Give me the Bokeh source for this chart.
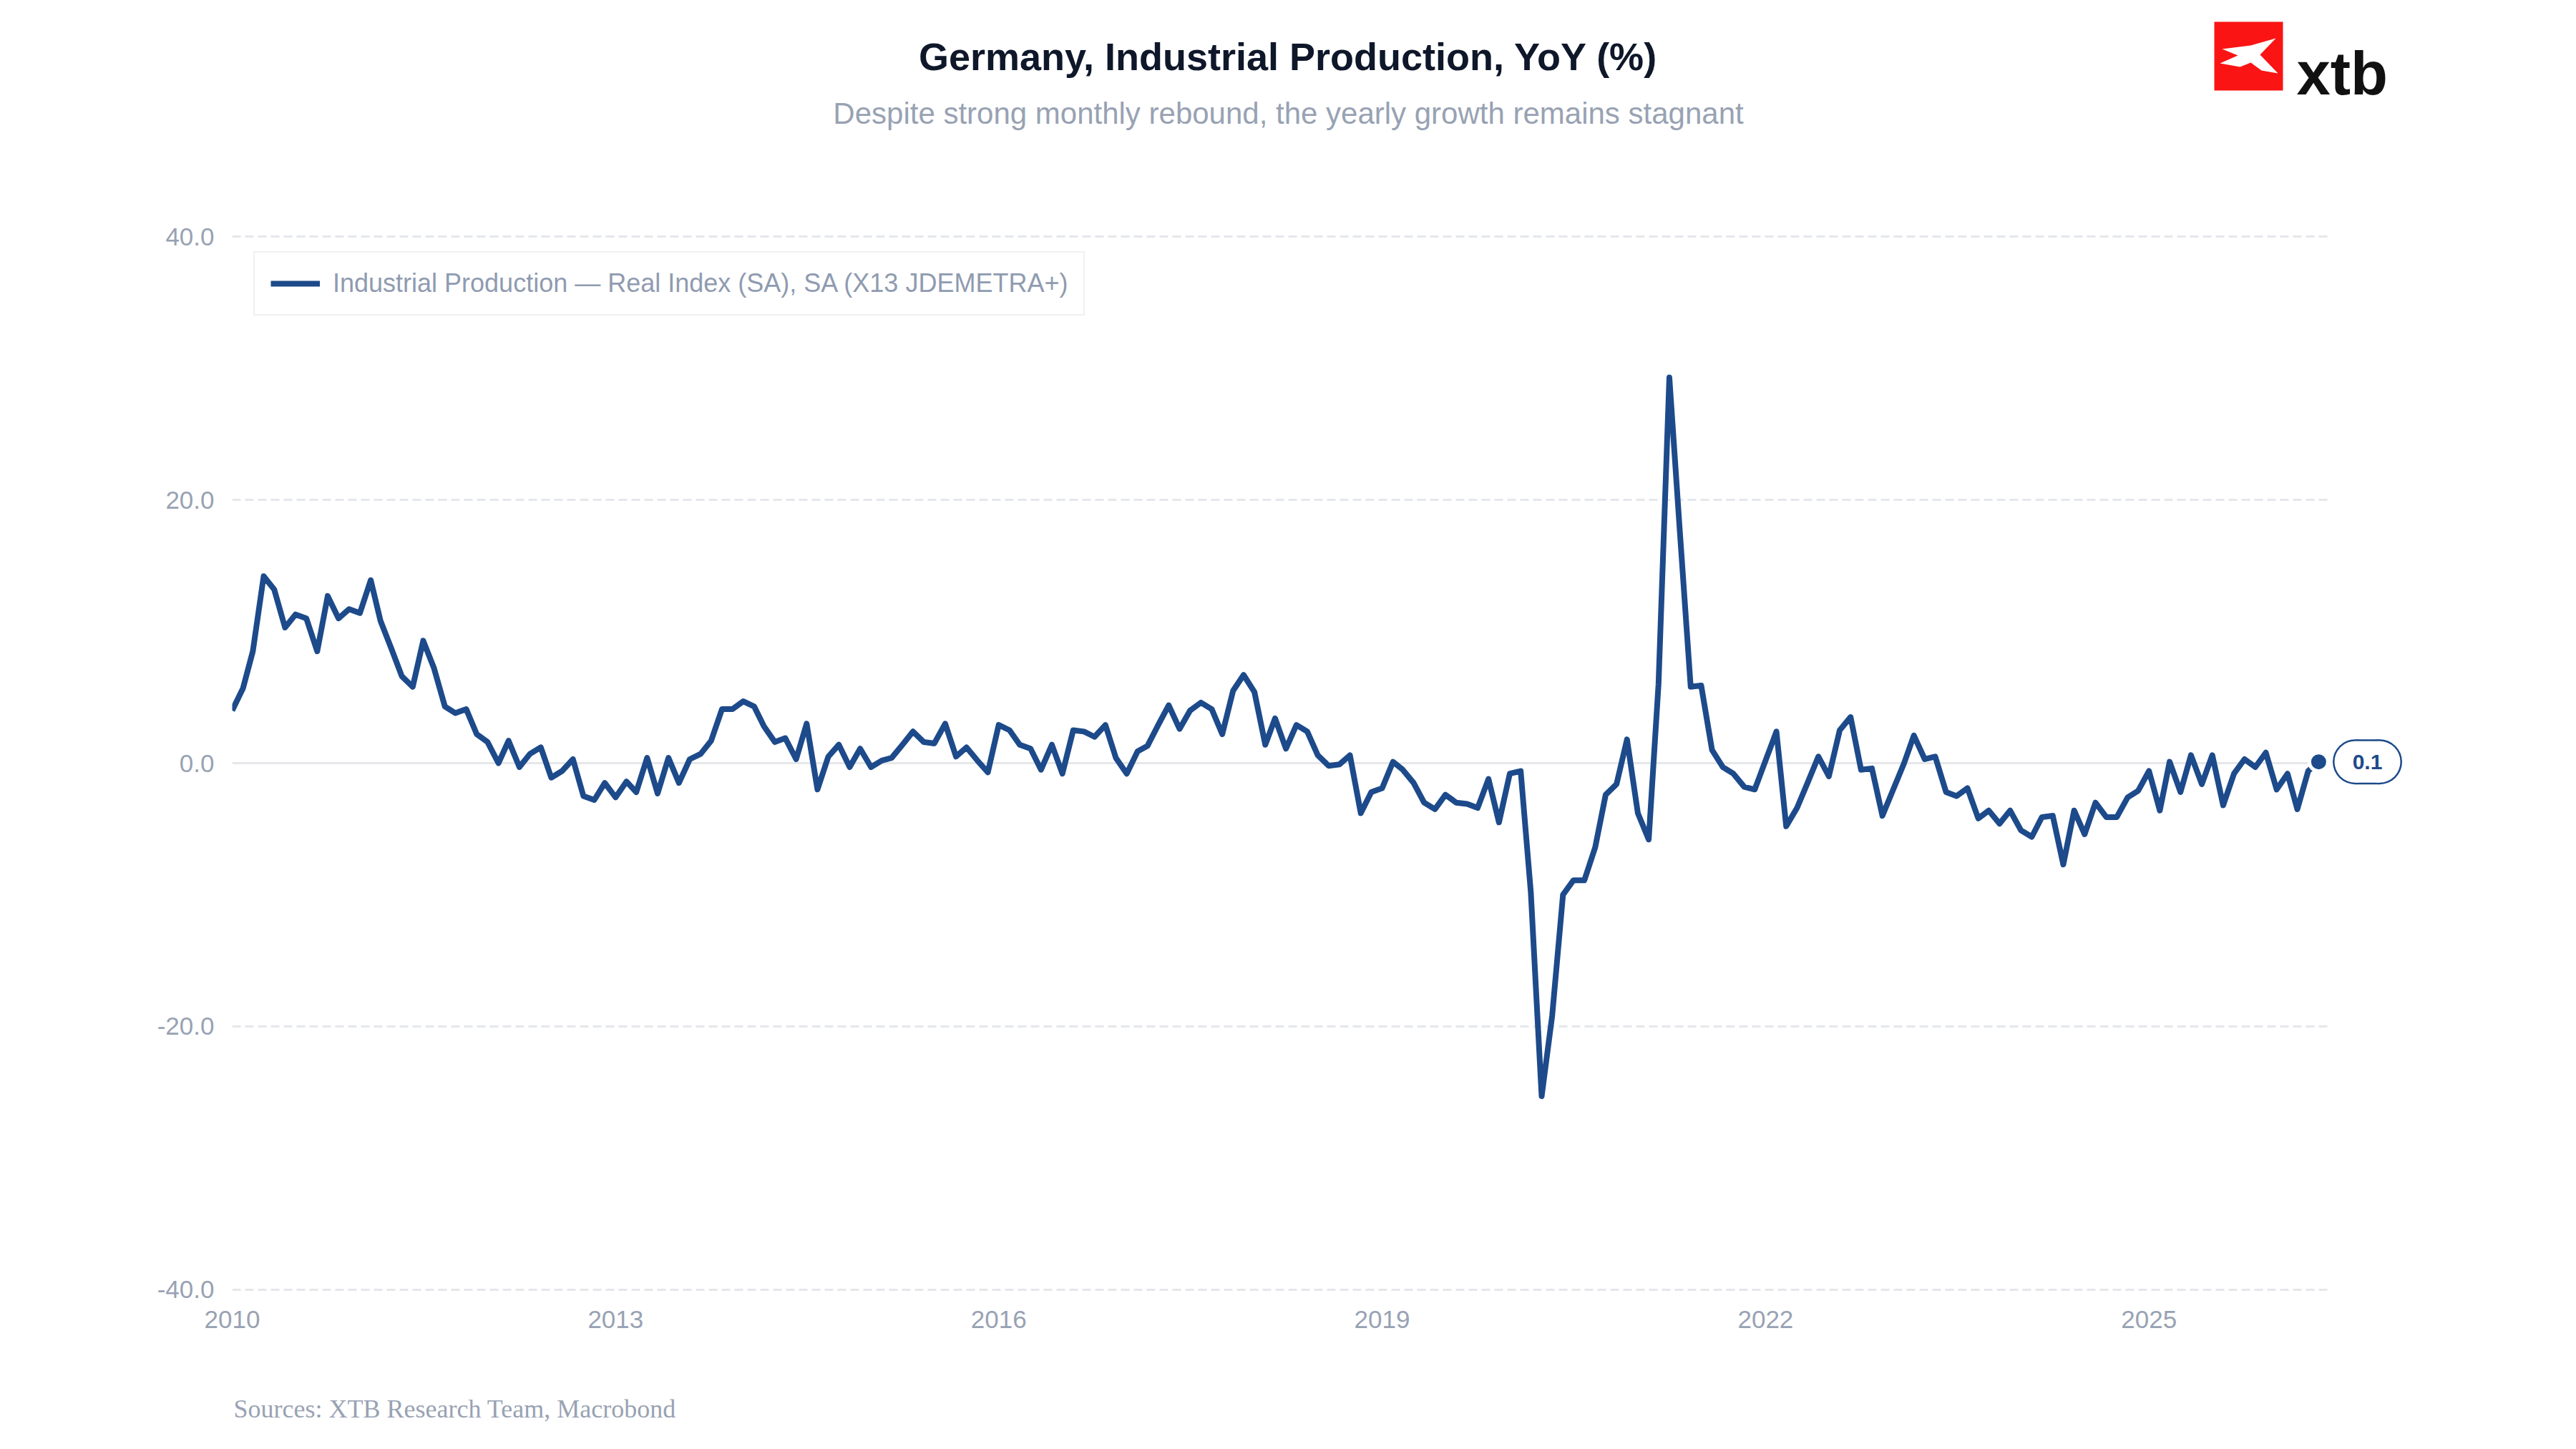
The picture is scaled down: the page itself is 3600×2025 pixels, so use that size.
import pandas as pd
from bokeh.plotting import figure
from bokeh.layouts import column, row
from bokeh.core.properties import value
from bokeh.models import (Range1d, FixedTicker, NumeralTickFormatter, DatetimeTickFormatter,
                          Grid, Legend, LegendItem, ColumnDataSource)
from bokeh.embed import file_html
from bokeh.resources import INLINE

# ---------------- data ----------------
title_text = "Germany, Industrial Production, YoY (%)"
subtitle_text = "Despite strong monthly rebound, the yearly growth remains stagnant"
source_text = "Sources: XTB Research Team, Macrobond"
series_name = "Industrial Production — Real Index (SA), SA (X13 JDEMETRA+)"
brand_text = "xtb"

start_month = "2010-01-01"
yoy = [
    4.0, 5.7, 8.5, 14.2, 13.2, 10.3, 11.3, 11.0, 8.5, 12.7, 11.0, 11.7,
    11.4, 13.9, 10.8, 8.7, 6.6, 5.8, 9.3, 7.2, 4.3, 3.8, 4.1, 2.2,
    1.6, 0.0, 1.7, -0.3, 0.7, 1.2, -1.1, -0.6, 0.3, -2.5, -2.8, -1.5,
    -2.6, -1.4, -2.2, 0.4, -2.3, 0.4, -1.5, 0.3, 0.7, 1.7, 4.1, 4.1,
    4.7, 4.3, 2.8, 1.6, 1.9, 0.3, 3.0, -2.0, 0.5, 1.4, -0.3, 1.1,
    -0.3, 0.2, 0.4, 1.4, 2.4, 1.6, 1.5, 3.0, 0.5, 1.2, 0.2, -0.7,
    2.9, 2.5, 1.4, 1.1, -0.5, 1.4, -0.8, 2.5, 2.4, 2.0, 2.9, 0.4,
    -0.8, 0.9, 1.3, 2.9, 4.4, 2.6, 4.0, 4.6, 4.1, 2.2, 5.5, 6.7,
    5.4, 1.4, 3.4, 1.1, 2.9, 2.4, 0.6, -0.2, -0.1, 0.6, -3.8, -2.2,
    -1.9, 0.1, -0.5, -1.5, -3.0, -3.5, -2.4, -3.0, -3.1, -3.4, -1.2, -4.5,
    -0.8, -0.6, -9.8, -25.3, -19.2, -10.0, -8.9, -8.9, -6.4, -2.4, -1.6, 1.8,
    -3.8, -5.8, 6.0, 29.3, 17.6, 5.8, 5.9, 1.0, -0.3, -0.8, -1.8, -2.0,
    0.2, 2.4, -4.8, -3.4, -1.5, 0.5, -1.0, 2.5, 3.5, -0.5, -0.4, -4.0,
    -2.0, 0.0, 2.1, 0.3, 0.5, -2.2, -2.5, -1.9, -4.2, -3.6, -4.6, -3.6,
    -5.1, -5.6, -4.1, -4.0, -7.7, -3.6, -5.4, -3.0, -4.1, -4.1, -2.6, -2.1,
    -0.6, -3.6, 0.1, -2.2, 0.6, -1.6, 0.6, -3.2, -0.8, 0.3, -0.3, 0.8,
    -2.0, -0.8, -3.5, -0.6, 0.1,
]
year_ticks = [2010, 2013, 2016, 2019, 2022, 2025]
y_ticks = [-40, -20, 0, 20, 40]

dates = pd.date_range(start_month, periods=len(yoy), freq="MS")
src = ColumnDataSource(data=dict(date=dates, yoy=yoy))

# ---------------- styling / layout ----------------
NAVY = "#1d4a8a"
GRID = "#e5e7eb"
MUTED = "#98a2b3"
FONT = "Liberation Sans"

TOTAL_W = 3584
HEADER_H, MAIN_H, FOOTER_H = 210, 1700, 99

left_b = 324
first_px, last_px = 324, 3240
span_days = (dates[-1] - dates[0]).days
px_per_day = (last_px - first_px) / span_days
pad_days = 33
frame_w = round(px_per_day * (span_days + pad_days))
MAIN_W = left_b + frame_w
BADGE_W = TOTAL_W - MAIN_W
main_top_b = 111
frame_h = 1490
main_bottom_b = MAIN_H - main_top_b - frame_h

x_end = dates[-1] + pd.Timedelta(days=pad_days)
y_range = Range1d(-40.5, 40.5)


def blank_fig(w, h, x_range, y_rng, **kw):
    f = figure(width=w, height=h, x_range=x_range, y_range=y_rng,
               x_axis_location=None, y_axis_location=None,
               output_backend="svg", toolbar_location=None, **kw)
    f.grid.visible = False
    f.outline_line_color = None
    f.background_fill_color = "white"
    f.border_fill_color = "white"
    return f


# ---------------- header: title, subtitle, logo ----------------
header = blank_fig(TOTAL_W, HEADER_H, Range1d(0, TOTAL_W), Range1d(HEADER_H, 0),
                   min_border=0)
header.text(x=[1800], y=[78], text=[title_text], text_align="center",
            text_baseline="middle", text_font=value(FONT), text_font_style="bold",
            text_font_size=value("54px"), text_color="#0f172a")
header.text(x=[1800], y=[158], text=[subtitle_text], text_align="center",
            text_baseline="middle", text_font=value(FONT),
            text_font_size=value("42px"), text_color=MUTED)
header.quad(left=[3094], right=[3190], top=[30], bottom=[126],
            fill_color="#fa1414", line_color=None)
header.patch(x=[3105, 3145, 3180, 3158, 3183, 3160, 3145, 3130, 3102, 3127],
             y=[68, 63, 53, 76, 102, 98, 87, 93, 88, 77],
             fill_color="white", line_color=None)
header.text(x=[3209], y=[102], text=[brand_text], text_align="left",
            text_baseline="alphabetic", text_font=value(FONT), text_font_style="bold",
            text_font_size=value("85px"), text_color="#111111")

# ---------------- main chart ----------------
p = figure(width=MAIN_W, height=MAIN_H, x_axis_type="datetime",
           x_range=Range1d(start=dates[0].to_pydatetime(), end=x_end.to_pydatetime()),
           y_range=y_range, output_backend="svg", toolbar_location=None,
           min_border_left=left_b, min_border_right=0,
           min_border_top=main_top_b, min_border_bottom=main_bottom_b)
p.outline_line_color = None
p.background_fill_color = "white"
p.border_fill_color = "white"

p.xaxis.ticker = FixedTicker(ticks=[pd.Timestamp(f"{y}-01-01").value / 1e6 for y in year_ticks])
p.xaxis.formatter = DatetimeTickFormatter(years="%Y", months="%Y", days="%Y", hours="%Y",
                                          hourmin="%Y", minutes="%Y", minsec="%Y", seconds="%Y",
                                          milliseconds="%Y", microseconds="%Y")
p.yaxis.ticker = FixedTicker(ticks=y_ticks)
p.yaxis.formatter = NumeralTickFormatter(format="0.0")
for ax in (p.xaxis, p.yaxis):
    ax.axis_line_color = None
    ax.major_tick_line_color = None
    ax.minor_tick_line_color = None
    ax.major_label_text_font = FONT
    ax.major_label_text_font_size = "35px"
    ax.major_label_text_color = MUTED
p.xaxis.major_label_standoff = 14
p.yaxis.major_label_standoff = 19

p.xgrid.visible = False
p.ygrid.ticker = FixedTicker(ticks=[t for t in y_ticks if t != 0])
p.ygrid.grid_line_color = GRID
p.ygrid.grid_line_width = 3
p.ygrid.grid_line_dash = "12 6"
p.add_layout(Grid(dimension=1, ticker=FixedTicker(ticks=[0]),
                  grid_line_color=GRID, grid_line_width=3))

r = p.line("date", "yoy", source=src, line_color=NAVY, line_width=8, line_join="round")
p.scatter(x=[dates[-1]], y=[yoy[-1]], size=26, fill_color=NAVY,
          line_color="white", line_width=5)

legend = Legend(items=[LegendItem(label=series_name, renderers=[r])],
                location="top_left", margin=30, padding=22, spacing=0,
                glyph_width=69, glyph_height=20, label_standoff=18,
                label_text_font=FONT, label_text_font_size="36px",
                label_text_color="#8f9bb0",
                border_line_color="#dde1e6", border_line_width=2.5,
                background_fill_color="white", background_fill_alpha=1)
p.add_layout(legend)

# ---------------- last value badge (shares the y range) ----------------
badge = blank_fig(BADGE_W, MAIN_H, Range1d(0, BADGE_W), y_range,
                  min_border_left=0, min_border_right=0,
                  min_border_top=main_top_b, min_border_bottom=main_bottom_b)
bx = 52
last_val = yoy[-1]
badge.rect(x=[bx], y=[last_val], width=34, height=63, width_units="screen",
           height_units="screen", fill_color=NAVY, line_color=None)
badge.scatter(x=[bx - 17, bx + 17], y=[last_val, last_val], size=63,
              fill_color=NAVY, line_color=None)
badge.rect(x=[bx], y=[last_val], width=34, height=58, width_units="screen",
           height_units="screen", fill_color="white", line_color=None)
badge.scatter(x=[bx - 17, bx + 17], y=[last_val, last_val], size=58,
              fill_color="white", line_color=None)
badge.text(x=[bx], y=[last_val], text=[f"{last_val:.1f}"], text_align="center",
           text_baseline="middle", text_font=value(FONT), text_font_style="bold",
           text_font_size=value("30px"), text_color=NAVY)

# ---------------- footer: source ----------------
footer = blank_fig(TOTAL_W, FOOTER_H, Range1d(0, TOTAL_W), Range1d(FOOTER_H, 0),
                   min_border=0)
footer.text(x=[326], y=[58], text=[source_text], text_align="left",
            text_baseline="middle", text_font=value("Liberation Serif"),
            text_font_size=value("36px"), text_color=MUTED)

layout = column(header, row(p, badge), footer)
open("out.html", "w").write(file_html(layout, INLINE))
